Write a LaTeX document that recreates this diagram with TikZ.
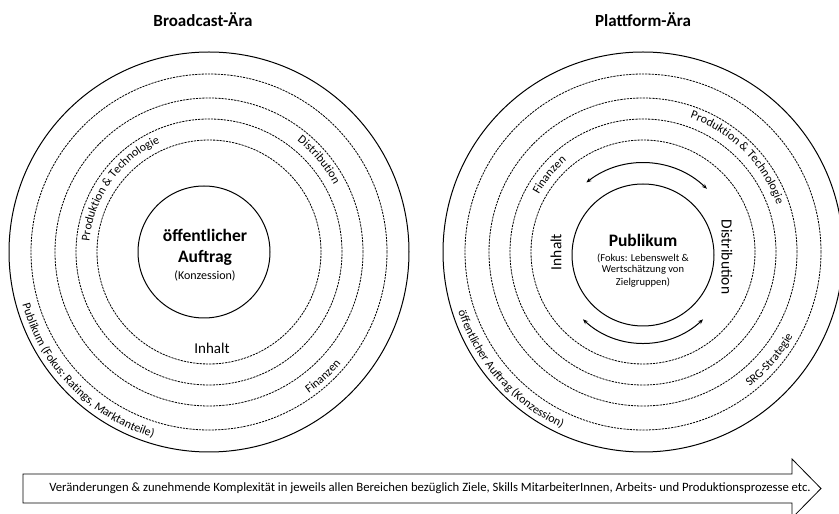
\documentclass[tikz,border=0pt]{standalone}
\usepackage{fontspec}
\setmainfont{Carlito}
\usepackage{tikz}
\usetikzlibrary{arrows.meta,decorations.text}
\newcommand{\titlefont}{\fontsize{17}{20}\selectfont\bfseries}
\newcommand{\corefont}{\fontsize{17.5}{20}\selectfont\bfseries}
\newcommand{\ringfont}{\fontsize{12}{14}\selectfont}
\tikzset{
  rim/.style={line width=1pt},
  ring/.style={line width=0.8pt, dash pattern=on 2.2pt off 1pt},
  cyc/.style={line width=1pt, {Stealth[length=5pt,width=4pt]}-{Stealth[length=5pt,width=4pt]}},
  ringtext/.style={decorate, decoration={text along path, text align=center, text={|\ringfont|#1}}}
}

\begin{document}
\begin{tikzpicture}[x=1pt, y=1pt]
		\useasboundingbox (0,0) rectangle (839,514);
		\clip (0,0) rectangle (839,514);
		\coordinate (lc) at (209,262);
		\coordinate (rc) at (643,262);
		\coordinate (lcore) at (204,262);
		\coordinate (rcore) at (643,259);
		% titles
		\node (t1) at (203,494) [font=\titlefont] {Broadcast-Ära};
		\node (t2) at (643,494) [font=\titlefont] {Plattform-Ära};
		% rings
		\foreach \c in {lc,rc} {
			\draw[rim] (\c) circle[radius=200pt];
			\foreach \r in {178,154,133,112}
				\draw[ring] (\c) circle[radius=\r pt];
		}
		\draw[rim] (lcore) circle[radius=66pt];
		\draw[rim] (rcore) circle[radius=71pt];
		% Broadcast-Ära
		\node (a1) at (205,279) [font=\corefont] {öffentlicher};
		\node (a2) at (205,256) [font=\corefont] {Auftrag};
		\node (a3) at (205,238) [font=\fontsize{12}{14}\selectfont] {(Konzession)};
		\node (inh1) at (212,166) [font=\fontsize{15}{18}\selectfont] {Inhalt};
		\path[ringtext={Produktion {\&} Technologie}] (lc) ++(180:120pt) arc[start angle=180, end angle=109, radius=120pt];
		\path[ringtext={Distribution}] (lc) ++(62:142pt) arc[start angle=62, end angle=18, radius=142pt];
		\path[ringtext={Finanzen}] (lc) ++(-68:173pt) arc[start angle=-68, end angle=-27, radius=173pt];
		\path[ringtext={Publikum (Fokus: Ratings, Marktanteile)}] (lc) ++(183:194pt) arc[start angle=183, end angle=266, radius=194pt];
		% Plattform-Ära
		\node (p1) at (643,274) [font=\corefont] {Publikum};
		\node (p2) at (643,256) [font=\fontsize{10.5}{12}\selectfont] {(Fokus: Lebenswelt \&};
		\node (p3) at (643,244) [font=\fontsize{10.5}{12}\selectfont] {Wertschätzung von};
		\node (p4) at (643,231) [font=\fontsize{10.5}{12}\selectfont] {Zielgruppen)};
		\node (inh2) at (556,262) [font=\fontsize{15.5}{18}\selectfont, rotate=90] {Inhalt};
		\node (dis2) at (727,257) [font=\fontsize{15.5}{18}\selectfont, rotate=-90] {Distribution};
		\draw[cyc] (rcore) ++(128:92pt) arc[start angle=128, end angle=46, radius=92pt];
		\draw[cyc] (rcore) ++(227:88pt) arc[start angle=227, end angle=313, radius=88pt];
		\path[ringtext={Finanzen}] (rc) ++(162:119pt) arc[start angle=162, end angle=119, radius=119pt];
		\path[ringtext={Produktion {\&} Technologie}] (rc) ++(82:142pt) arc[start angle=82, end angle=8, radius=142pt];
		\path[ringtext={SRG-Strategie}] (rc) ++(-62:172pt) arc[start angle=-62, end angle=-19, radius=172pt];
		\path[ringtext={öffentlicher Auftrag (Konzession)}] (rc) ++(183:194pt) arc[start angle=183, end angle=260, radius=194pt];
		% change arrow
		\draw[line width=0.8pt] (23,40) -- (792,40) -- (792,55) -- (821,25.5) -- (792,-4) -- (792,11) -- (23,11) -- cycle;
		\node (chg) at (430,26) [font=\fontsize{12.7}{14}\selectfont] {Veränderungen \& zunehmende Komplexität in jeweils allen Bereichen bezüglich Ziele, Skills MitarbeiterInnen, Arbeits- und Produktionsprozesse etc.};
		\end{tikzpicture}
\end{document}
